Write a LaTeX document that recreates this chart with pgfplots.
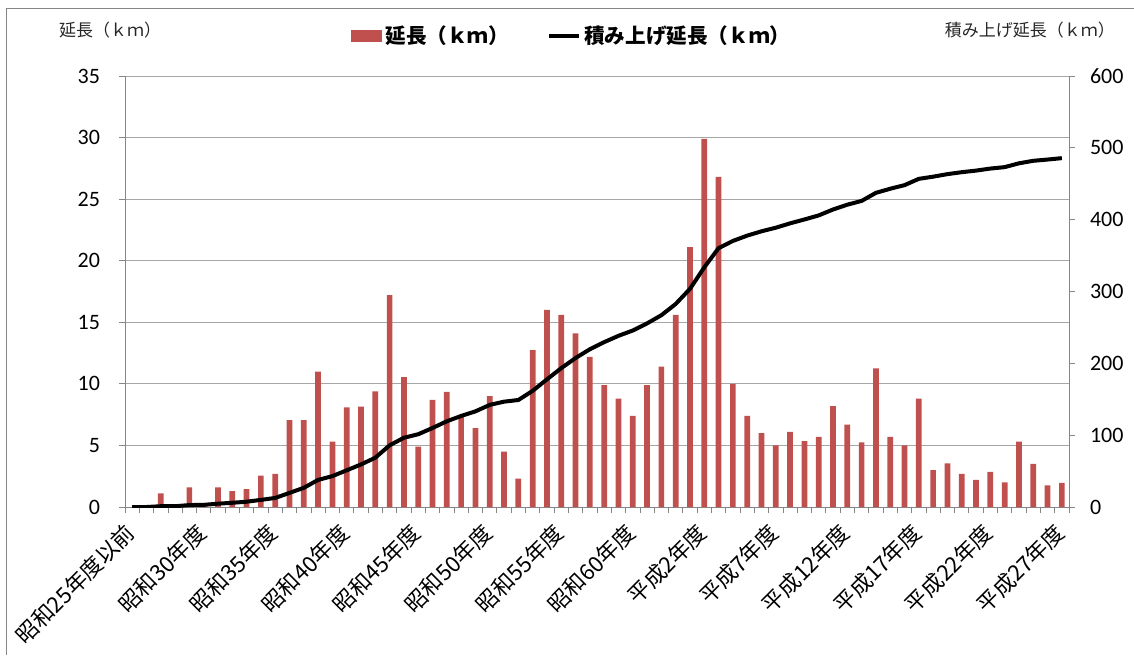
\documentclass[border=0pt]{standalone}
\usepackage{fontspec}
\setmainfont{Carlito}
\newfontfamily\jp{Noto Sans CJK JP}
\usepackage{pgfplots}
\usepackage{pgfplotstable}
\pgfplotsset{compat=1.18}
\definecolor{barred}{HTML}{C0504D}
\definecolor{axgray}{HTML}{868686}
\definecolor{gridgray}{HTML}{A6A6A6}

% idx, yearly length (km), cumulative length (km)
\pgfplotstableread{
idx len cum
0 0 0
1 0 0
2 1.1 1.1
3 0 1.1
4 1.6 2.7
5 0.3 3.0
6 1.6 4.6
7 1.3 5.9
8 1.45 7.35
9 2.55 9.9
10 2.7 12.6
11 7.05 19.65
12 7.05 26.7
13 11.0 37.7
14 5.3 43.0
15 8.1 51.1
16 8.15 59.25
17 9.4 68.65
18 17.2 85.85
19 10.55 96.4
20 4.9 101.3
21 8.7 110.0
22 9.35 119.35
23 7.4 126.75
24 6.4 133.15
25 9.0 142.15
26 4.5 146.65
27 2.3 148.95
28 12.75 161.7
29 16.0 177.7
30 15.6 193.3
31 14.1 207.4
32 12.2 219.6
33 9.9 229.5
34 8.8 238.3
35 7.4 245.7
36 9.9 255.6
37 11.4 267.0
38 15.6 282.6
39 21.1 303.7
40 29.9 333.6
41 26.8 360.4
42 10.0 370.4
43 7.4 377.8
44 6.0 383.8
45 5.0 388.8
46 6.1 394.9
47 5.35 400.25
48 5.7 405.95
49 8.2 414.15
50 6.7 420.85
51 5.25 426.1
52 11.25 437.35
53 5.7 443.05
54 5.0 448.05
55 8.8 456.85
56 3.0 459.85
57 3.55 463.4
58 2.7 466.1
59 2.2 468.3
60 2.85 471.15
61 2.0 473.15
62 5.3 478.45
63 3.5 481.95
64 1.75 483.7
65 1.95 485.65
}\datatable

\begin{document}
\begin{tikzpicture}
\pgfplotsset{
  base/.style={
    at={(62.5pt,74pt)}, anchor=south west,
    scale only axis, width=472pt, height=215.5pt,
    xmin=-0.5, xmax=65.5,
    tick align=outside,
    /pgf/number format/assume math mode=true,
    ticklabel style={font=\fontsize{11}{11}\selectfont},
    every tick/.style={axgray, thin},
    axis line style={axgray, thin},
  }
}
\begin{axis}[base,
  axis x line*=bottom, axis y line*=left,
  ymin=0, ymax=35, ytick={0,5,...,35},
  ymajorgrids, grid style={gridgray, thin},
  xtick={0,5,...,65},
  xticklabels={昭和25年度以前,昭和30年度,昭和35年度,昭和40年度,昭和45年度,昭和50年度,昭和55年度,昭和60年度,平成2年度,平成7年度,平成12年度,平成17年度,平成22年度,平成27年度},
  major x tick style={draw=none},
  minor xtick={-0.5,0.5,...,65.5},
  minor tick length=3pt, major tick length=3pt,
  xticklabel style={font=\jp\fontsize{11}{11}\selectfont, xshift=-4.5pt, yshift=-2.5pt, rotate=45, anchor=north east, inner sep=1pt},
  yticklabel style={xshift=-6pt},
]
\addplot[ybar, bar width=0.4, fill=barred, draw=none] table[x=idx, y=len] {\datatable};
\end{axis}
\begin{axis}[base,
  axis x line=none, axis y line*=right,
  ymin=0, ymax=600, ytick={0,100,...,600},
  major tick length=3pt,
  yticklabel style={xshift=4pt},
  legend style={at={(0.474,1.093)}, anchor=center, draw=none, fill=none,
    font=\jp\bfseries\fontsize{10.3}{10.3}\selectfont,
    legend columns=2, /tikz/every even column/.append style={column sep=17pt}},
  legend cell align=left,
]
\addlegendimage{area legend, fill=barred, draw=none, legend image code/.code={\fill[barred] (-2pt,-3pt) rectangle (13.5pt,3pt);}}
\addlegendentry{延長（ｋｍ）}
\addplot[black, line width=2pt, line join=round, legend image code/.code={\draw[black, line width=1.6pt] (-1pt,0) -- (14pt,0);}] table[x=idx, y=cum] {\datatable};
\addlegendentry{積み上げ延長（ｋｍ）}
\end{axis}
\node[anchor=west, font=\jp\fontsize{8.5}{8.5}\selectfont, text=black!85] at (26pt,312.5pt) {延長（ｋｍ）};
\node[anchor=east, font=\jp\fontsize{8.5}{8.5}\selectfont, text=black!85] at (561pt,312.5pt) {積み上げ延長（ｋｍ）};
\draw[axgray, thin] (3pt,0) -- (3pt,323.5pt) -- (567pt,323.5pt);
\pgfresetboundingbox
\path (0,0) rectangle (567pt,327.5pt);
\end{tikzpicture}
\end{document}
